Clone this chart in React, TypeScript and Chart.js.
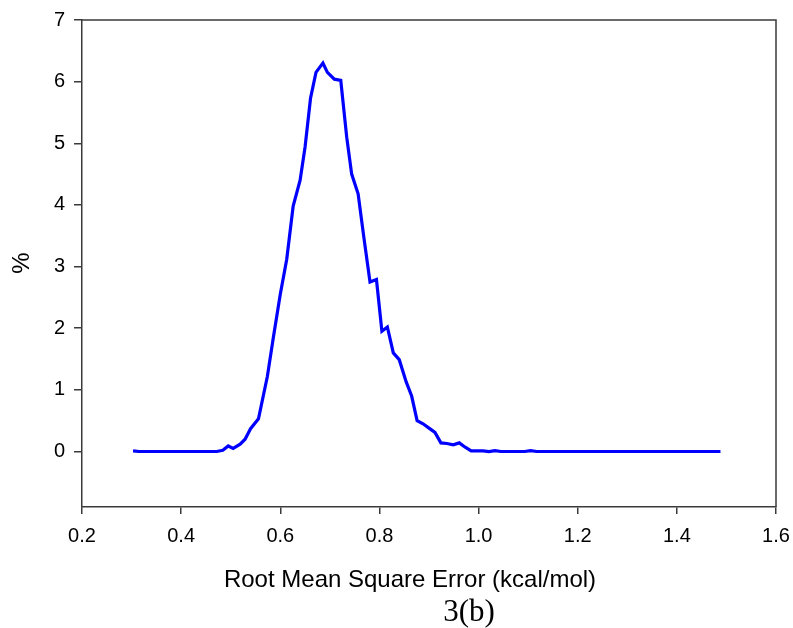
import React, { useEffect, useRef } from "react";
import { Chart, registerables } from "chart.js";

Chart.register(...registerables);

// RMSE bin positions (kcal/mol) and share of structures in each bin (%)
const rmse = [
  0.303, 0.315, 0.327, 0.339, 0.351, 0.363, 0.375, 0.388, 0.4, 0.412,
  0.424, 0.436, 0.448, 0.46, 0.472, 0.484, 0.495, 0.505, 0.519, 0.529,
  0.54, 0.556, 0.574, 0.586, 0.6, 0.613, 0.626, 0.64, 0.65, 0.661,
  0.672, 0.686, 0.695, 0.709, 0.722, 0.734, 0.744, 0.757, 0.769, 0.781,
  0.794, 0.805, 0.816, 0.828, 0.84, 0.854, 0.865, 0.876, 0.888, 0.9,
  0.912, 0.924, 0.936, 0.949, 0.961, 0.973, 0.985, 0.997, 1.009, 1.021,
  1.033, 1.045, 1.057, 1.069, 1.081, 1.093, 1.105, 1.117, 1.129, 1.141,
  1.153, 1.165, 1.177, 1.189, 1.201, 1.213, 1.225, 1.237, 1.249, 1.261,
  1.273, 1.285, 1.297, 1.309, 1.321, 1.333, 1.345, 1.357, 1.369, 1.381,
  1.393, 1.405, 1.417, 1.429, 1.441, 1.453, 1.465, 1.477, 1.488,
];
const percent = [
  0.01, 0.0, 0.0, 0.0, 0.0, 0.0, 0.0, 0.0, 0.0, 0.0,
  0.0, 0.0, 0.0, 0.0, 0.0, 0.02, 0.09, 0.05, 0.12, 0.2,
  0.37, 0.53, 1.22, 1.85, 2.55, 3.12, 3.98, 4.4, 4.94, 5.73,
  6.15, 6.3, 6.15, 6.04, 6.02, 5.1, 4.5, 4.18, 3.45, 2.75,
  2.79, 1.95, 2.02, 1.6, 1.49, 1.13, 0.9, 0.5, 0.45, 0.38,
  0.31, 0.14, 0.13, 0.11, 0.14, 0.07, 0.01, 0.01, 0.01, 0.0,
  0.015, 0.0, 0.0, 0.0, 0.0, 0.0, 0.015, 0.0, 0.0, 0.0,
  0.0, 0.0, 0.0, 0.0, 0.0, 0.0, 0.0, 0.0, 0.0, 0.0,
  0.0, 0.0, 0.0, 0.0, 0.0, 0.0, 0.0, 0.0, 0.0, 0.0,
  0.0, 0.0, 0.0, 0.0, 0.0, 0.0, 0.0, 0.0, 0.0,
];
const yTicks = [0, 1, 2, 3, 4, 5, 6, 7];
const xTitle = "Root Mean Square Error (kcal/mol)";
const yTitle = "%";
const caption = "3(b)";

const AXIS = "#3a3a3a";
const SANS = "'Liberation Sans', Arial, sans-serif";
const SERIF = "'Liberation Serif', 'Times New Roman', serif";

// Frame around the plot plus the axis titles and figure caption
const framePlugin = {
  id: "frameAndTitles",
  afterDraw(chart: any) {
    const { ctx, chartArea: a } = chart;
    ctx.save();
    ctx.strokeStyle = AXIS;
    ctx.lineWidth = 1.5;
    ctx.beginPath();
    ctx.moveTo(a.left, a.top);
    ctx.lineTo(a.right, a.top);
    ctx.lineTo(a.right, a.bottom);
    ctx.stroke();

    ctx.fillStyle = "#000";
    ctx.textAlign = "center";
    ctx.textBaseline = "middle";
    ctx.font = `24px ${SANS}`;
    ctx.fillText(xTitle, 410, 580);
    ctx.font = `31px ${SERIF}`;
    ctx.fillText(caption, 469, 613);

    ctx.translate(22, 263);
    ctx.rotate(-Math.PI / 2);
    ctx.font = `24px ${SANS}`;
    ctx.fillText(yTitle, 0, 0);
    ctx.restore();
  },
};

export default function App() {
  const ref = useRef<HTMLCanvasElement>(null);

  useEffect(() => {
    document.body.style.margin = "0";
    const canvas = ref.current;
    if (!canvas) return;
    const chart = new Chart(canvas, {
      type: "line",
      data: {
        datasets: [
          {
            data: rmse.map((x, i) => ({ x, y: percent[i] })),
            borderColor: "#0000ff",
            borderWidth: 3.2,
            pointRadius: 0,
            tension: 0,
            fill: false,
          },
        ],
      },
      options: {
        responsive: false,
        animation: false,
        layout: { padding: { top: 20, right: 17, left: 0, bottom: 0 } },
        plugins: {
          legend: { display: false },
          tooltip: { enabled: false },
        },
        scales: {
          x: {
            type: "linear",
            min: 0.2,
            max: 1.6,
            ticks: {
              stepSize: 0.2,
              color: "#000",
              padding: 10,
              font: { family: SANS, size: 20 },
              callback: (v: any) => Number(v).toFixed(1),
            },
            grid: {
              display: true,
              drawOnChartArea: false,
              drawTicks: true,
              tickLength: 7,
              color: AXIS,
              lineWidth: 1.5,
            },
            border: { display: true, color: AXIS, width: 1.5 },
            afterFit: (s: any) => {
              s.height = 121;
              s.paddingLeft = 0;
              s.paddingRight = 0;
            },
          },
          y: {
            type: "linear",
            min: -0.9,
            max: 7,
            afterBuildTicks: (s: any) => {
              s.ticks = yTicks.map((value) => ({ value }));
            },
            ticks: {
              color: "#000",
              padding: 9,
              font: { family: SANS, size: 20 },
            },
            grid: {
              display: true,
              drawOnChartArea: false,
              drawTicks: true,
              tickLength: 8,
              color: AXIS,
              lineWidth: 1.5,
            },
            border: { display: true, color: AXIS, width: 1.5 },
            afterFit: (s: any) => {
              s.width = 82;
              s.paddingTop = 0;
              s.paddingBottom = 0;
            },
          },
        },
      },
      plugins: [framePlugin],
    });
    return () => chart.destroy();
  }, []);

  return (
    <div style={{ position: "absolute", left: 0, top: 0, width: 793, height: 628, background: "#fff" }}>
      <canvas ref={ref} width={793} height={628} style={{ display: "block" }} />
    </div>
  );
}
